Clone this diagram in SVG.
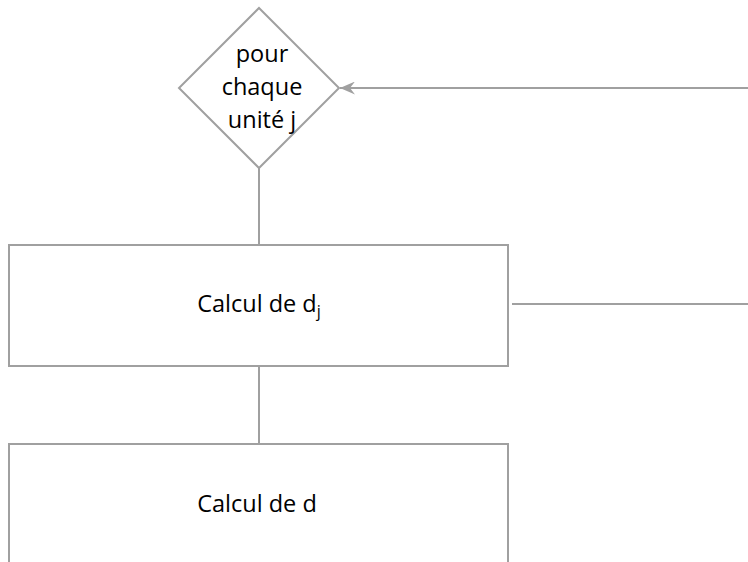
<svg xmlns="http://www.w3.org/2000/svg" width="748" height="562" viewBox="0 0 748 562">
  <style>
    .shape { fill: #ffffff; stroke: #a0a0a0; stroke-width: 2; }
    .edge { fill: none; stroke: #a0a0a0; stroke-width: 2; }
    .label { font-family: "Open Sans", "Noto Sans", sans-serif; font-size: 23.5px; fill: #000000; text-anchor: middle; }
  </style>
  <defs>
    <!-- notched arrowhead, drawn pointing along +x -->
    <marker id="arrow" viewBox="0 0 15 13" refX="15" refY="6.5" markerWidth="15" markerHeight="13" markerUnits="userSpaceOnUse" orient="auto">
      <path d="M0,0 L15,6.5 L0,13 L5,6.5 Z" fill="#a0a0a0"/>
    </marker>
  </defs>

  <g id="connectors">
    <line class="edge" x1="259" y1="168" x2="259" y2="245"/>
    <line class="edge" x1="259" y1="366" x2="259" y2="444"/>
    <line class="edge" x1="512" y1="304" x2="748" y2="304"/>
    <line class="edge" x1="748" y1="88" x2="340" y2="88" marker-end="url(#arrow)"/>
  </g>

  <g id="loop">
    <polygon class="shape" points="259,8 339,88 259,168 179,88"/>
    <text class="label" x="262" y="62">pour</text>
    <text class="label" x="262" y="95">chaque</text>
    <text class="label" x="262" y="128">unité j</text>
  </g>

  <g id="calc-dj">
    <rect class="shape" x="9" y="245" width="499" height="121"/>
    <text class="label" x="259" y="312">Calcul de d<tspan font-size="16" dy="5">j</tspan></text>
  </g>

  <g id="calc-d">
    <rect class="shape" x="9" y="444" width="499" height="140"/>
    <text class="label" x="257" y="512">Calcul de d</text>
  </g>
</svg>
